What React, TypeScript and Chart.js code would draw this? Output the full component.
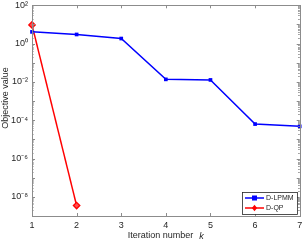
import React, { useEffect, useRef } from "react";
import { Chart, registerables } from "chart.js";

Chart.register(...registerables);

const iterations = [1, 2, 3, 4, 5, 6, 7];
const dlpmmValues = [4.1, 3.0, 1.84, 0.0136, 0.0127, 6.3e-5, 4.8e-5];
const dqpIterations = [1, 2];
const dqpValues = [9.5, 3.5e-9];
const yExponents = [-9, -8, -7, -6, -5, -4, -3, -2, -1, 0, 1, 2];
const seriesNames = ["D-LPMM", "D-QP"];
const xTitle = "Iteration number";
const xTitleVar = "k";
const yTitle = "Objective value";

const SUP: Record<string, string> = {
  "0": "⁰", "1": "¹", "2": "²", "3": "³", "4": "⁴", "5": "⁵",
  "6": "⁶", "7": "⁷", "8": "⁸", "9": "⁹", "-": "⁻",
};
const sup = (n: number) => String(n).split("").map((c) => SUP[c] || c).join("");

const FONT = "Liberation Sans, Arial, Helvetica, sans-serif";
const AXIS = "#262626";
const BOX = "#8c8c8c";

const decorPlugin = {
  id: "decor",
  afterDraw(chart: any) {
    const ctx = chart.ctx;
    const a = chart.chartArea;
    const xs = chart.scales.x;
    const ys = chart.scales.y;
    ctx.save();
    ctx.strokeStyle = BOX;
    ctx.lineWidth = 1;
    ctx.strokeRect(Math.round(a.left) + 0.5, Math.round(a.top) + 0.5, Math.round(a.right - a.left), Math.round(a.bottom - a.top));
    ctx.beginPath();
    for (const v of iterations) {
      const px = Math.round(xs.getPixelForValue(v)) + 0.5;
      ctx.moveTo(px, a.bottom);
      ctx.lineTo(px, a.bottom - 3);
      ctx.moveTo(px, a.top);
      ctx.lineTo(px, a.top + 3);
    }
    for (const e of yExponents) {
      for (let m = 1; m <= 9; m++) {
        const v = m * Math.pow(10, e);
        if (v > 100.0001 || v < 1e-9 * 0.9999) continue;
        const py = Math.round(ys.getPixelForValue(v)) + 0.5;
        const len = m === 1 ? 3 : 1.5;
        ctx.moveTo(a.left, py);
        ctx.lineTo(a.left + len, py);
        ctx.moveTo(a.right, py);
        ctx.lineTo(a.right - len, py);
      }
    }
    ctx.stroke();

    ctx.fillStyle = AXIS;
    ctx.textBaseline = "middle";
    ctx.font = `9px ${FONT}`;
    const w1 = ctx.measureText(xTitle).width;
    ctx.font = `italic 9px ${FONT}`;
    const w2 = ctx.measureText(xTitleVar).width;
    const gap = 6;
    const total = w1 + gap + w2;
    const cx = (a.left + a.right) / 2;
    const x0 = cx - total / 2;
    ctx.textAlign = "left";
    ctx.font = `9px ${FONT}`;
    ctx.fillText(xTitle, x0, 236);
    ctx.font = `italic 9px ${FONT}`;
    ctx.fillText(xTitleVar, x0 + w1 + gap, 236);

    ctx.save();
    ctx.translate(6, 98);
    ctx.rotate(-Math.PI / 2);
    ctx.textAlign = "center";
    ctx.font = `9px ${FONT}`;
    ctx.fillText(yTitle, 0, 0);
    ctx.restore();

    const lx = 242, ly = 192, lw = 55, lh = 22;
    ctx.fillStyle = "#ffffff";
    ctx.fillRect(lx, ly, lw, lh);
    ctx.strokeStyle = AXIS;
    ctx.lineWidth = 0.8;
    ctx.strokeRect(lx + 0.5, ly + 0.5, lw, lh);
    const colors = ["#0000ff", "#ff0000"];
    for (let i = 0; i < 2; i++) {
      const yy = ly + 6 + i * 10;
      ctx.strokeStyle = colors[i];
      ctx.fillStyle = colors[i];
      ctx.lineWidth = 1.5;
      ctx.beginPath();
      ctx.moveTo(lx + 3, yy);
      ctx.lineTo(lx + 22, yy);
      ctx.stroke();
      const mx = lx + 12.5;
      if (i === 0) {
        ctx.fillRect(mx - 2.5, yy - 2.5, 5, 5);
      } else {
        ctx.beginPath();
        ctx.moveTo(mx, yy - 3.2);
        ctx.lineTo(mx + 2.6, yy);
        ctx.lineTo(mx, yy + 3.2);
        ctx.lineTo(mx - 2.6, yy);
        ctx.closePath();
        ctx.fill();
      }
      ctx.fillStyle = AXIS;
      ctx.textAlign = "left";
      ctx.font = `7px ${FONT}`;
      ctx.fillText(seriesNames[i], lx + 24, yy + 0.5);
    }
    ctx.restore();
  },
};

export default function App() {
  const ref = useRef<HTMLCanvasElement | null>(null);
  useEffect(() => {
    if (!ref.current) return;
    const chart = new Chart(ref.current, {
      type: "line",
      data: {
        datasets: [
          {
            label: seriesNames[0],
            data: iterations.map((x, i) => ({ x, y: dlpmmValues[i] })),
            borderColor: "#0000ff",
            backgroundColor: "#0000ff",
            borderWidth: 1.5,
            pointStyle: "rect",
            pointRadius: 2.6,
            pointBorderWidth: 0,
          },
          {
            label: seriesNames[1],
            data: dqpIterations.map((x, i) => ({ x, y: dqpValues[i] })),
            borderColor: "#ff0000",
            backgroundColor: "#ff5050",
            borderWidth: 1.5,
            pointStyle: "rectRot",
            pointRadius: 3.2,
            pointBorderWidth: 1.3,
          },
        ],
      },
      options: {
        animation: false,
        responsive: false,
        maintainAspectRatio: false,
        clip: false,
        layout: { padding: { top: 4, right: 3, left: 0, bottom: 0 } },
        plugins: { legend: { display: false }, tooltip: { enabled: false } },
        scales: {
          x: {
            type: "linear",
            min: 1,
            max: 7,
            grid: { display: false, drawTicks: false, tickLength: 0 },
            border: { display: false },
            ticks: {
              stepSize: 1,
              color: AXIS,
              font: { size: 9, family: FONT },
              padding: 4,
              maxRotation: 0,
            },
            afterFit: (s: any) => {
              s.height = 25;
              s.paddingLeft = 0;
              s.paddingRight = 0;
            },
          },
          y: {
            type: "logarithmic",
            min: 1e-9,
            max: 100,
            grid: { display: false, drawTicks: false, tickLength: 0 },
            border: { display: false },
            afterBuildTicks: (s: any) => {
              s.ticks = yExponents.map((e) => ({ value: Math.pow(10, e) }));
            },
            ticks: {
              autoSkip: false,
              color: AXIS,
              font: { size: 9, family: FONT },
              padding: 4,
              callback: (v: any) => {
                const e = Math.round(Math.log10(Number(v)));
                return e % 2 === 0 ? "10" + sup(e) : "";
              },
            },
            afterFit: (s: any) => {
              s.width = 32;
              s.paddingTop = 0;
              s.paddingBottom = 0;
            },
          },
        },
      },
      plugins: [decorPlugin],
    } as any);
    return () => chart.destroy();
  }, []);
  return (
    <div style={{ position: "fixed", left: 0, top: 0, width: 305, height: 241, background: "#fff" }}>
      <canvas ref={ref} width={305} height={241} style={{ display: "block" }} />
    </div>
  );
}
